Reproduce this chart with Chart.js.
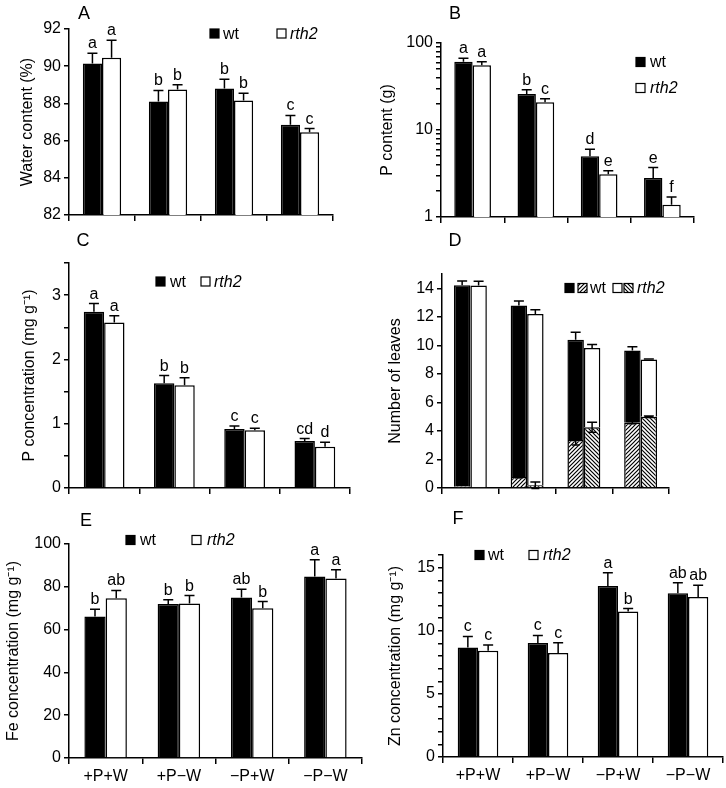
<!DOCTYPE html>
<html lang="en">
<head>
<meta charset="UTF-8">
<title>wt / rth2 panels</title>
<script src="https://cdn.jsdelivr.net/npm/chart.js@4.4.1/dist/chart.umd.min.js"></script>
<style>
  body { margin: 0; background: #fff; }
  #fig { position: relative; width: 726px; height: 788px; }
  #fig canvas { position: absolute; left: 0; top: 0; }
  .lab { position: absolute; font: 18px 'Liberation Sans', Arial, sans-serif; color: #000;
         transform: translate(-50%, -50%); }
</style>
</head>
<body>
<div id="fig">
  <canvas id="cA" width="726" height="788"></canvas>
  <canvas id="cB" width="726" height="788"></canvas>
  <canvas id="cC" width="726" height="788"></canvas>
  <canvas id="cD" width="726" height="788"></canvas>
  <canvas id="cE" width="726" height="788"></canvas>
  <canvas id="cF" width="726" height="788"></canvas>
  <div class="lab" style="left:84px;top:13px">A</div>
  <div class="lab" style="left:455px;top:13px">B</div>
  <div class="lab" style="left:83px;top:240px">C</div>
  <div class="lab" style="left:455px;top:240px">D</div>
  <div class="lab" style="left:86px;top:520px">E</div>
  <div class="lab" style="left:458px;top:518px">F</div>
</div>
<script>
const FONT = "'Liberation Sans', Arial, sans-serif";
const groups = ['+P+W', '+P\u2212W', '\u2212P+W', '\u2212P\u2212W'];

// A water content (%)
const waterWt = [90.15, 88.1, 88.8, 86.85];
const waterWtSe = [0.55, 0.6, 0.5, 0.5];
const waterRth = [90.45, 88.75, 88.15, 86.45];
const waterRthSe = [0.95, 0.25, 0.4, 0.2];
const waterWtLet = ['a', 'b', 'b', 'c'];
const waterRthLet = ['a', 'b', 'b', 'c'];

// B P content (g), log axis
const pContWt = [61, 26, 5.0, 2.8];
const pContWtSe = [6, 3, 1.0, 0.9];
const pContRth = [55.5, 20.8, 3.1, 1.38];
const pContRthSe = [5.5, 2.1, 0.3, 0.32];
const pContWtLet = ['a', 'b', 'd', 'e'];
const pContRthLet = ['a', 'c', 'e', 'f'];
const logTicks = [1, 2, 3, 4, 5, 6, 7, 8, 9, 10, 20, 30, 40, 50, 60, 70, 80, 90, 100];
const logLabels = [1, 10, 100];

// C P concentration
const pConcWt = [2.74, 1.63, 0.917, 0.73];
const pConcWtSe = [0.13, 0.12, 0.046, 0.04];
const pConcRth = [2.575, 1.60, 0.90, 0.643];
const pConcRthSe = [0.105, 0.115, 0.03, 0.067];
const pConcWtLet = ['a', 'b', 'c', 'cd'];
const pConcRthLet = ['a', 'b', 'c', 'd'];

// D number of leaves (total and hatched part)
const leafWtTotal = [14.21, 12.8, 10.4, 9.63];
const leafWtTotalSe = [0.3, 0.3, 0.52, 0.27];
const leafWtHatch = [0.12, 0.77, 3.36, 4.58];
const leafWtHatchSe = [0, 0.05, 0.35, 0.08];
const leafRthTotal = [14.2, 12.2, 9.82, 9.0];
const leafRthTotalSe = [0.3, 0.3, 0.23, 0.05];
const leafRthHatch = [0, 0.19, 4.25, 5.0];
const leafRthHatchSe = [0, 0.23, 0.35, 0.05];
const leafTicks = [0, 2, 4, 6, 8, 10, 12, 14];

// E Fe concentration
const feWt = [66.1, 72.0, 75.0, 84.8];
const feWtSe = [3.4, 1.9, 3.9, 7.8];
const feRth = [74.7, 72.2, 70.0, 83.9];
const feRthSe = [3.6, 3.7, 3.1, 4.1];
const feWtLet = ['b', 'b', 'ab', 'a'];
const feRthLet = ['ab', 'b', 'b', 'a'];

// F Zn concentration
const znWt = [8.68, 9.03, 13.55, 12.97];
const znWtSe = [0.87, 0.6, 1.05, 0.83];
const znRth = [8.42, 8.24, 11.52, 12.68];
const znRthSe = [0.45, 0.81, 0.24, 0.92];
const znWtLet = ['c', 'c', 'a', 'ab'];
const znRthLet = ['c', 'c', 'b', 'ab'];

function hatch(up) {
  const c = document.createElement('canvas');
  c.width = 4; c.height = 4;
  const g = c.getContext('2d');
  g.fillStyle = '#fff'; g.fillRect(0, 0, 4, 4);
  g.strokeStyle = '#000'; g.lineWidth = 1.2;
  g.beginPath();
  if (up) {
    g.moveTo(-1, 5); g.lineTo(5, -1);
    g.moveTo(-1, 1); g.lineTo(1, -1);
    g.moveTo(3, 5); g.lineTo(5, 3);
  } else {
    g.moveTo(-1, -1); g.lineTo(5, 5);
    g.moveTo(3, -1); g.lineTo(5, 1);
    g.moveTo(-1, 3); g.lineTo(1, 5);
  }
  g.stroke();
  return g.createPattern(c, 'repeat');
}
const hatchWt = hatch(true);
const hatchRth = hatch(false);

// error bars, letters and the small legends
function extras(legend) {
  return {
    id: 'extras',
    afterDatasetsDraw(chart) {
      const ctx = chart.ctx, y = chart.scales.y;
      ctx.save();
      ctx.strokeStyle = '#000';
      ctx.fillStyle = '#000';
      ctx.lineWidth = 1.5;
      chart.data.datasets.forEach((ds, i) => {
        const meta = chart.getDatasetMeta(i);
        meta.data.forEach((bar, j) => {
          let tip = bar.y;
          if (ds.se && ds.se[j] > 0) {
            const v = y.getValueForPixel(bar.y);
            tip = y.getPixelForValue(v + ds.se[j]);
            const low = ds.both ? y.getPixelForValue(v - ds.se[j]) : bar.y;
            ctx.beginPath();
            ctx.moveTo(bar.x, low); ctx.lineTo(bar.x, tip);
            ctx.moveTo(bar.x - 5, tip); ctx.lineTo(bar.x + 5, tip);
            if (ds.both) { ctx.moveTo(bar.x - 4, low); ctx.lineTo(bar.x + 4, low); }
            ctx.stroke();
          }
          if (ds.letters) {
            ctx.font = '16px ' + FONT;
            ctx.textAlign = 'center';
            ctx.textBaseline = 'alphabetic';
            ctx.fillText(ds.letters[j], bar.x, tip - 5);
          }
        });
      });
      ctx.textBaseline = 'middle';
      ctx.textAlign = 'left';
      legend.forEach(it => {
        if (it.box) {
          ctx.fillStyle = it.box;
          ctx.fillRect(it.x, it.y - 4.5, 9, 9);
          ctx.lineWidth = 1.2;
          ctx.strokeRect(it.x, it.y - 4.5, 9, 9);
        } else {
          ctx.fillStyle = '#000';
          ctx.font = (it.italic ? 'italic ' : '') + '16px ' + FONT;
          ctx.fillText(it.text, it.x, it.y + 1);
        }
      });
      ctx.restore();
    }
  };
}

function yAxis(title, yw, extra) {
  return Object.assign({
    border: { color: '#000', width: 1.5 },
    grid: { drawOnChartArea: false, tickLength: 5, color: '#000', lineWidth: 1.5 },
    ticks: { color: '#000', font: { size: 16, family: FONT }, padding: 3, autoSkip: false },
    title: { display: true, text: title, color: '#000', font: { size: 16, family: FONT }, padding: 0 },
    afterFit: s => { s.width = yw; }
  }, extra);
}

function xAxis(showLabels, xh, stacked) {
  return {
    offset: true,
    stacked: !!stacked,
    border: { color: '#000', width: 1.5 },
    grid: { offset: true, drawOnChartArea: false, tickLength: 6, color: '#000', lineWidth: 1.5 },
    ticks: { display: showLabels, color: '#000', font: { size: 16, family: FONT }, padding: 3,
             maxRotation: 0, autoSkip: false },
    afterFit: s => { s.height = xh; }
  };
}

function barSet(data, se, letters, fill) {
  return {
    data: data, se: se, letters: letters,
    backgroundColor: fill, borderColor: '#000', borderWidth: 1.5,
    categoryPercentage: 0.58, barPercentage: 1.0
  };
}

function makeChart(id, datasets, scales, pad, legend) {
  return new Chart(document.getElementById(id), {
    type: 'bar',
    data: { labels: groups, datasets: datasets },
    options: {
      responsive: false,
      animation: false,
      devicePixelRatio: 1,
      layout: { padding: pad },
      plugins: { legend: { display: false }, tooltip: { enabled: false } },
      scales: scales
    },
    plugins: [extras(legend)]
  });
}

function genoLegend(bx, wx, rbx, rx, y) {
  return [
    { box: '#000', x: bx, y: y }, { text: 'wt', x: wx, y: y },
    { box: '#fff', x: rbx, y: y }, { text: 'rth2', x: rx, y: y, italic: true }
  ];
}

// A
makeChart('cA',
  [barSet(waterWt, waterWtSe, waterWtLet, '#000'), barSet(waterRth, waterRthSe, waterRthLet, '#fff')],
  { x: xAxis(false, 10), y: yAxis('Water content (%)', 51, { min: 82, max: 92, ticks: { color: '#000', font: { size: 16, family: FONT }, padding: 3, stepSize: 2 } }) },
  { left: 18, top: 29, right: 393, bottom: 563 },
  genoLegend(210, 223, 277, 290, 33.5));

// B
makeChart('cB',
  [barSet(pContWt, pContWtSe, pContWtLet, '#000'), barSet(pContRth, pContRthSe, pContRthLet, '#fff')],
  { x: xAxis(false, 10), y: yAxis('P content (g)', 63, {
      type: 'logarithmic', min: 1, max: 100,
      afterBuildTicks: s => { s.ticks = logTicks.map(v => ({ value: v })); },
      ticks: { color: '#000', font: { size: 16, family: FONT }, padding: 3, autoSkip: false,
               callback: v => logLabels.includes(v) ? String(v) : '' } }) },
  { left: 378, top: 43, right: 32, bottom: 561 },
  [{ box: '#000', x: 636, y: 62 }, { text: 'wt', x: 650, y: 62 },
   { box: '#fff', x: 636, y: 88 }, { text: 'rth2', x: 650, y: 88, italic: true }]);

// C
makeChart('cC',
  [barSet(pConcWt, pConcWtSe, pConcWtLet, '#000'), barSet(pConcRth, pConcRthSe, pConcRthLet, '#fff')],
  { x: xAxis(false, 10), y: yAxis('P concentration (mg g\u207B\u00B9)', 49, {
      min: 0, max: 3.5,
      ticks: { color: '#000', font: { size: 16, family: FONT }, padding: 3, autoSkip: false, stepSize: 0.5,
               callback: v => Math.abs(v - Math.round(v)) < 1e-6 && v < 3.4 ? String(Math.round(v)) : '' } }) },
  { left: 20, top: 263, right: 376, bottom: 290 },
  genoLegend(156, 170, 201, 214, 281.5));

// D
const dSet = (data, se, fill, stack, both) => ({
  data: data, se: se, both: both, stack: stack,
  backgroundColor: fill, borderColor: '#000', borderWidth: 1.5,
  categoryPercentage: 0.58, barPercentage: 1.0
});
makeChart('cD',
  [dSet(leafWtHatch, leafWtHatchSe, hatchWt, 'wt', true),
   dSet(leafWtTotal.map((t, i) => t - leafWtHatch[i]), leafWtTotalSe, '#000', 'wt', false),
   dSet(leafRthHatch, leafRthHatchSe, hatchRth, 'rth2', true),
   dSet(leafRthTotal.map((t, i) => t - leafRthHatch[i]), leafRthTotalSe, '#fff', 'rth2', false)],
  { x: xAxis(false, 10, true), y: yAxis('Number of leaves', 56, {
      stacked: true, min: 0, max: 15,
      afterBuildTicks: s => { s.ticks = leafTicks.map(v => ({ value: v })); },
      ticks: { color: '#000', font: { size: 16, family: FONT }, padding: 3, autoSkip: false } }) },
  { left: 386, top: 274, right: 57, bottom: 290 },
  [{ box: '#000', x: 565, y: 288 }, { box: hatchWt, x: 578, y: 288 }, { text: 'wt', x: 590, y: 288 },
   { box: '#fff', x: 613, y: 288 }, { box: hatchRth, x: 624, y: 288 }, { text: 'rth2', x: 637, y: 288, italic: true }]);

// E
makeChart('cE',
  [barSet(feWt, feWtSe, feWtLet, '#000'), barSet(feRth, feRthSe, feRthLet, '#fff')],
  { x: xAxis(true, 30), y: yAxis('Fe concentration (mg g\u207B\u00B9)', 65, {
      min: 0, max: 100,
      ticks: { color: '#000', font: { size: 16, family: FONT }, padding: 3, stepSize: 20 } }) },
  { left: 4, top: 544, right: 364, bottom: 0 },
  genoLegend(126, 140, 192, 207, 540));

// F
makeChart('cF',
  [barSet(znWt, znWtSe, znWtLet, '#000'), barSet(znRth, znRthSe, znRthLet, '#fff')],
  { x: xAxis(true, 31), y: yAxis('Zn concentration (mg g\u207B\u00B9)', 57, {
      min: 0, max: 16,
      ticks: { color: '#000', font: { size: 16, family: FONT }, padding: 3, autoSkip: false, stepSize: 1,
               callback: v => (v % 5 === 0 && v <= 15) ? String(v) : '' } }) },
  { left: 386, top: 555, right: 3, bottom: 0 },
  genoLegend(475, 488, 529, 543, 555));
</script>
</body>
</html>
